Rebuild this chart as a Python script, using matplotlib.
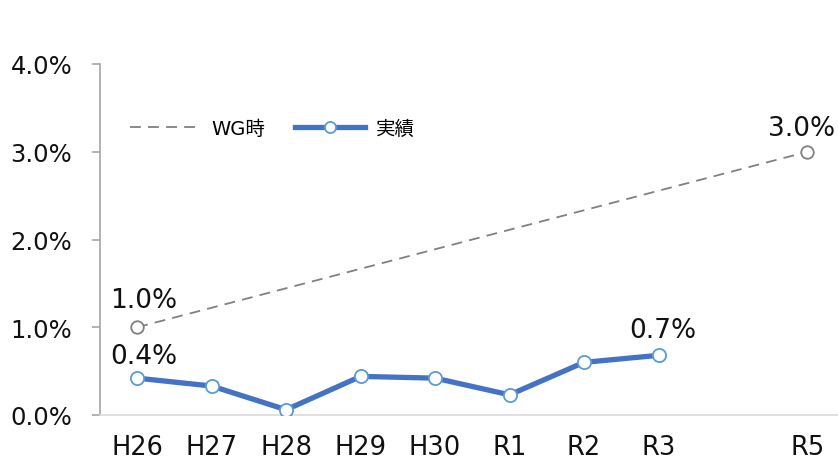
import matplotlib
matplotlib.use("Agg")
import matplotlib.pyplot as plt
from matplotlib.lines import Line2D
import numpy as np

plt.rcParams['font.family'] = ['DejaVu Sans', 'Noto Sans CJK JP']

# Fiscal-year categories (R4 kept as an empty slot)
categories = ["H26", "H27", "H28", "H29", "H30", "R1", "R2", "R3", "", "R5"]
# Actual results (%)
actual = [0.42, 0.33, 0.06, 0.44, 0.42, 0.23, 0.60, 0.68, None, None]
# Working-group target (%): start and end points
wg = [1.0, None, None, None, None, None, None, None, None, 3.0]
yticks = [0.0, 1.0, 2.0, 3.0, 4.0]

x = np.arange(len(categories))

fig = plt.figure(figsize=(8.38, 4.64), dpi=100)
ax = fig.add_axes([100 / 838, 1 - 416 / 464, 738 / 838, (416 - 65) / 464])

BLUE = "#4472C4"
BLUE_EDGE = "#5B9BD5"
GRAY = "#808080"

# WG target: dashed line joining the two defined points
wg_idx = [i for i, v in enumerate(wg) if v is not None]
wg_val = [wg[i] for i in wg_idx]
ax.plot(x[wg_idx], wg_val, linestyle=(0, (6, 4)), color=GRAY, linewidth=1.3,
        marker="o", markersize=9, markerfacecolor="white",
        markeredgecolor=GRAY, markeredgewidth=1.3, zorder=2)

act_idx = [i for i, v in enumerate(actual) if v is not None]
act_val = [actual[i] for i in act_idx]
ax.plot(x[act_idx], act_val, color=BLUE, linewidth=3.8,
        marker="o", markersize=9.5, markerfacecolor="white",
        markeredgecolor=BLUE_EDGE, markeredgewidth=1.3, zorder=3)

# Value labels (offsets in pixels above each point)
def label(i, v, dx, dy):
    ax.annotate(f"{v:.1f}%", (x[i], v), xytext=(dx, dy), textcoords="offset pixels",
                ha="center", va="center", fontsize=19, color="#111111")

label(wg_idx[0], wg_val[0], 6, 27)
label(wg_idx[-1], wg_val[-1], -6, 24)
label(act_idx[0], act_val[0], 7, 22)
label(act_idx[-1], act_val[-1], 4, 25)

ax.set_xlim(-0.5, 9.41)
ax.set_ylim(0, 4.0)
ax.set_yticks(yticks)
ax.set_yticklabels([f"{t:.1f}%" for t in yticks], fontsize=17.5, color="#111111")
ax.set_xticks(x)
ax.set_xticklabels(categories, fontsize=18.5, color="#111111")

for s in ["top", "right"]:
    ax.spines[s].set_visible(False)
ax.spines["left"].set_color("#A6A6A6")
ax.spines["left"].set_linewidth(1.2)
ax.spines["bottom"].set_color("#D9D9D9")
ax.spines["bottom"].set_linewidth(1.2)
ax.tick_params(axis="y", length=6, width=1.2, color="#A6A6A6", pad=14)
ax.tick_params(axis="x", length=0, pad=14)

handles = [
    Line2D([], [], linestyle=(0, (6, 4)), color=GRAY, linewidth=1.3),
    Line2D([], [], color=BLUE, linewidth=3.8, marker="o", markersize=8,
           markerfacecolor="white", markeredgecolor=BLUE_EDGE, markeredgewidth=1.3),
]
ax.legend(handles, ["WG時", "実績"], loc="center left", bbox_to_anchor=(0.017, 0.816),
          ncol=2, frameon=False, fontsize=14, handlelength=3.6,
          columnspacing=1.5, handletextpad=0.6)

fig.savefig("out.png", dpi=100)
